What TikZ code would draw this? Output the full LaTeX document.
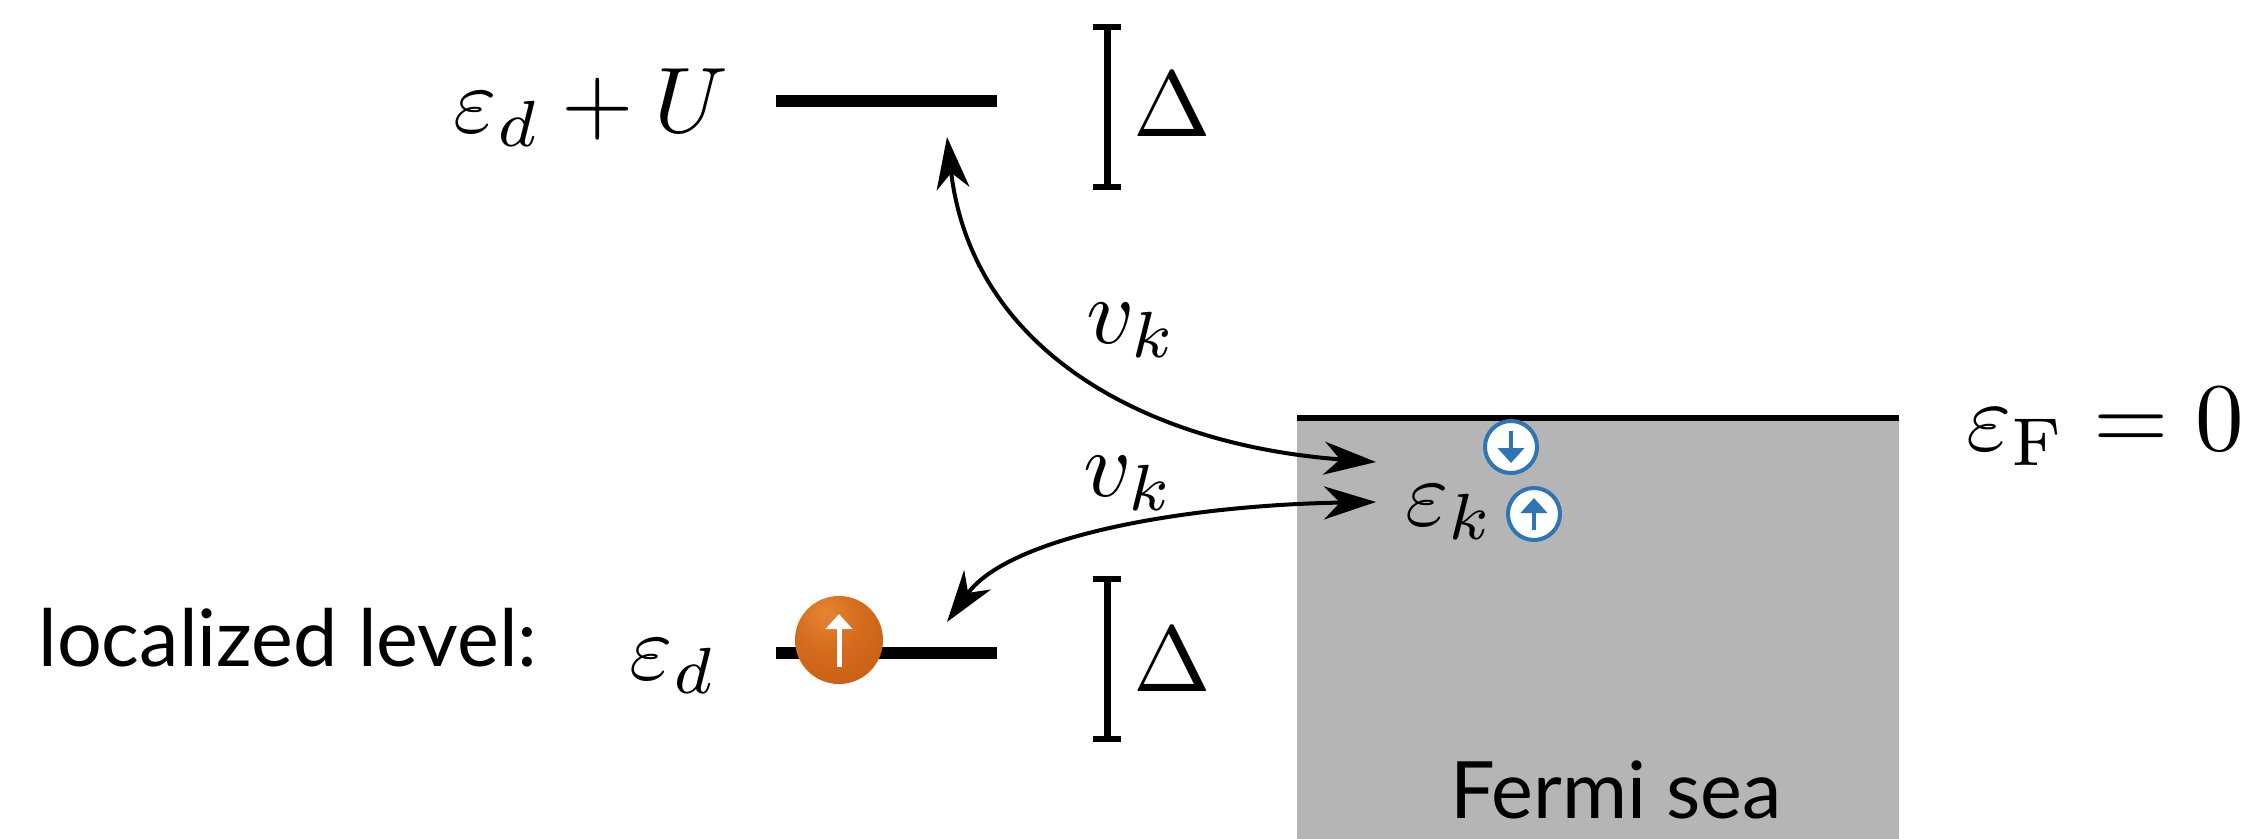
\documentclass[tikz,border=0pt]{standalone}
\usepackage[no-math]{fontspec}
\setsansfont{Lato}
\usepackage{xcolor}
\usetikzlibrary{arrows.meta}
\definecolor{seagray}{RGB}{181,181,181}
\definecolor{spinblue}{RGB}{46,117,182}
\pgfdeclareradialshading{ballorange}{\pgfpoint{-8bp}{16bp}}{
  rgb(0bp)=(0.90,0.52,0.20);
  rgb(20bp)=(0.83,0.42,0.11);
  rgb(44bp)=(0.78,0.36,0.07);
  rgb(62bp)=(0.60,0.29,0.10);
  rgb(100bp)=(0.50,0.25,0.10)}

\begin{document}
\begin{tikzpicture}[
  x=0.01cm, y=-0.01cm,
  lab/.style={scale=2.65, transform shape, inner sep=0pt},
  txt/.style={font=\sffamily\fontsize{22.5}{27}\selectfont, inner sep=0pt},
  lvl/.style={line width=0.12cm},
  bar/.style={line width=0.07cm, {Bar[width=0.28cm,line width=0.06cm]}-{Bar[width=0.28cm,line width=0.06cm]}},
  ar/.style={line width=0.04cm, {Stealth[length=5.2mm,width=3.3mm,inset=1.6mm]}-{Stealth[length=5.2mm,width=3.3mm,inset=1.6mm]}},
  spin/.style={circle, draw=spinblue, fill=white, line width=0.04cm, minimum size=0.52cm, inner sep=0pt},
  spinar/.style={spinblue, line width=0.045cm, -{Triangle[length=1.5mm,width=2.6mm]}}
]
\useasboundingbox (0,0) rectangle (2265,839);

% Fermi sea
\fill[seagray] (1297,419) rectangle (1899,839);
\coordinate (seaL) at (1297,418);
\coordinate (seaR) at (1899,418);
\draw[line width=0.06cm] (seaL) -- (seaR);

% Levels
\coordinate (upL) at (776,101);
\coordinate (upR) at (997,101);
\coordinate (loL) at (776,653);
\coordinate (loR) at (997,653);
\draw[lvl] (upL) -- (upR);
\draw[lvl] (loL) -- (loR);

% Widths
\coordinate (b1a) at (1107,24);
\coordinate (b1b) at (1107,190);
\coordinate (b2a) at (1107,576);
\coordinate (b2b) at (1107,742);
\draw[bar] (b1a) -- (b1b);
\draw[bar] (b2a) -- (b2b);

% Labels
\node[lab] (eU) at (591,108) {$\varepsilon_d+U$};
\node[lab] (ed) at (673,666) {$\varepsilon_d$};
\node[lab] (d1) at (1172,105) {$\Delta$};
\node[lab] (d2) at (1172,660) {$\Delta$};
\node[lab] (v1) at (1132,330) {$v_k$};
\node[lab] (v2) at (1129,483) {$v_k$};
\node[lab] (ek) at (1450,512) {$\varepsilon_k$};
\node[lab, scale=1.04] (eF) at (2105,427) {$\varepsilon_{\mathrm{F}}=0$};
\node[txt] (loc) at (288,638) {localized level:};
\node[txt] (sea) at (1616,790) {Fermi sea};

% Hopping
\coordinate (a1) at (947,137);
\coordinate (a2) at (1376,462);
\coordinate (a3) at (947,622);
\coordinate (a4) at (1376,502);
\draw[ar] (a1) .. controls (972,350) and (1145,445) .. (a2);
\draw[ar] (a3) .. controls (1010,535) and (1190,505) .. (a4);

% Spins
\node[circle, minimum size=0.88cm, inner sep=0pt, shading=ballorange] (ball) at (839,640) {};
\draw[white, line width=0.05cm, -{Triangle[length=1.5mm,width=2.6mm]}] ([yshift=-0.27cm]ball.center) -- ([yshift=0.26cm]ball.center);
\node[spin] (sd) at (1511,447) {};
\node[spin] (su) at (1534,514) {};
\draw[spinar] ([yshift=0.16cm]sd.center) -- ([yshift=-0.16cm]sd.center);
\draw[spinar] ([yshift=-0.16cm]su.center) -- ([yshift=0.16cm]su.center);
\end{tikzpicture}
\end{document}
